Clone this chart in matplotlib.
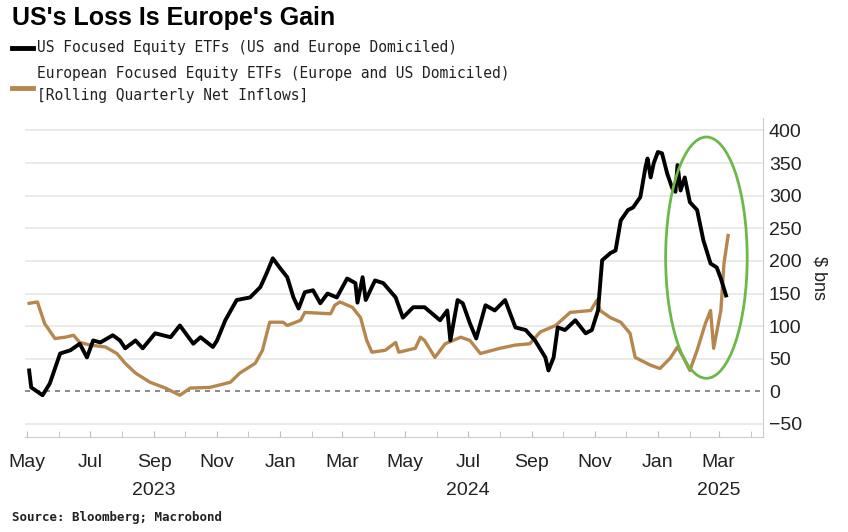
import numpy as np
import pandas as pd
import matplotlib
matplotlib.use("Agg")
import matplotlib.pyplot as plt
import matplotlib.dates as mdates
from matplotlib.patches import Ellipse
from matplotlib.lines import Line2D

# US focused equity ETFs, rolling quarterly net inflows ($ bn)
us_dates = ["2023-05-03", "2023-05-05", "2023-05-16", "2023-05-23", "2023-06-02", "2023-06-12",
            "2023-06-21", "2023-06-28", "2023-07-04", "2023-07-11", "2023-07-23", "2023-07-30",
            "2023-08-04", "2023-08-14", "2023-08-21", "2023-09-02", "2023-09-17", "2023-09-26",
            "2023-10-09", "2023-10-16", "2023-10-28", "2023-11-01", "2023-11-09", "2023-11-20",
            "2023-12-03", "2023-12-13", "2023-12-19", "2023-12-25", "2024-01-01", "2024-01-08",
            "2024-01-14", "2024-01-19", "2024-01-25", "2024-02-02", "2024-02-09", "2024-02-16",
            "2024-02-25", "2024-03-06", "2024-03-14", "2024-03-16", "2024-03-21", "2024-03-24",
            "2024-04-02", "2024-04-10", "2024-04-22", "2024-04-29", "2024-05-09", "2024-05-20",
            "2024-06-04", "2024-06-11", "2024-06-14", "2024-06-21", "2024-06-26", "2024-07-03",
            "2024-07-09", "2024-07-18", "2024-07-27", "2024-08-06", "2024-08-16", "2024-08-26",
            "2024-09-04", "2024-09-14", "2024-09-17", "2024-09-22", "2024-09-26", "2024-10-03",
            "2024-10-13", "2024-10-23", "2024-10-29", "2024-11-04", "2024-11-08", "2024-11-16",
            "2024-11-21", "2024-11-26", "2024-12-03", "2024-12-08", "2024-12-15", "2024-12-20",
            "2024-12-22", "2024-12-25", "2024-12-28", "2025-01-01", "2025-01-05", "2025-01-10",
            "2025-01-15", "2025-01-18", "2025-01-20", "2025-01-23", "2025-01-27", "2025-02-01",
            "2025-02-08", "2025-02-14", "2025-02-21", "2025-02-27", "2025-03-03", "2025-03-08"]
us_vals = [32, 6, -6, 12, 58, 63,
           73, 52, 78, 75, 86, 78,
           66, 78, 66, 89, 83, 101,
           73, 83, 68, 78, 109, 140,
           144, 160, 181, 204, 189, 175,
           144, 127, 152, 155, 135, 150,
           144, 173, 166, 136, 175, 140,
           170, 166, 144, 113, 129, 129,
           109, 124, 78, 140, 135, 104,
           81, 132, 124, 140, 98, 94,
           78, 52, 32, 52, 98, 94,
           109, 89, 94, 124, 201, 212,
           216, 262, 278, 282, 298, 344,
           357, 328, 350, 367, 365, 334,
           311, 306, 347, 308, 328, 290,
           278, 232, 196, 190, 173, 147]

# European focused equity ETFs
eu_dates = ["2023-05-03", "2023-05-11", "2023-05-18", "2023-05-28", "2023-06-07", "2023-06-15",
            "2023-06-21", "2023-07-01", "2023-07-16", "2023-07-27", "2023-08-04", "2023-08-14",
            "2023-08-28", "2023-09-12", "2023-09-26", "2023-10-06", "2023-10-25", "2023-11-14",
            "2023-11-23", "2023-12-08", "2023-12-15", "2023-12-22", "2024-01-04", "2024-01-08",
            "2024-01-21", "2024-01-25", "2024-02-19", "2024-02-23", "2024-02-28", "2024-03-11",
            "2024-03-19", "2024-03-25", "2024-03-30", "2024-04-12", "2024-04-22", "2024-04-25",
            "2024-05-11", "2024-05-16", "2024-05-20", "2024-05-30", "2024-06-09", "2024-06-24",
            "2024-07-03", "2024-07-13", "2024-08-01", "2024-08-16", "2024-08-30", "2024-09-09",
            "2024-09-24", "2024-10-08", "2024-10-28", "2024-11-03", "2024-11-06", "2024-11-16",
            "2024-11-26", "2024-12-05", "2024-12-10", "2024-12-25", "2025-01-03", "2025-01-13",
            "2025-01-20", "2025-01-26", "2025-02-01", "2025-02-08", "2025-02-16", "2025-02-21",
            "2025-02-24", "2025-03-03", "2025-03-06", "2025-03-10"]
eu_vals = [135, 137, 104, 81, 83, 86,
           75, 71, 68, 58, 43, 28,
           14, 5, -6, 5, 6, 14,
           28, 43, 63, 106, 106, 101,
           109, 121, 119, 132, 137, 129,
           113, 78, 60, 63, 75, 60,
           66, 83, 78, 52, 73, 83,
           78, 58, 66, 71, 73, 91,
           101, 121, 124, 140, 124, 113,
           106, 89, 52, 40, 35, 51,
           68, 51, 32, 63, 104, 124,
           66, 124, 196, 239]

y_ticks = [-50, 0, 50, 100, 150, 200, 250, 300, 350, 400]
year_labels = [("2023-09-01", "2023"), ("2024-07-01", "2024"), ("2025-03-01", "2025")]

us = pd.Series(us_vals, index=pd.to_datetime(us_dates))
eu = pd.Series(eu_vals, index=pd.to_datetime(eu_dates))

sans = ["Liberation Sans", "DejaVu Sans"]
mono = ["DejaVu Sans Mono"]

fig = plt.figure(figsize=(8.48, 5.32), dpi=100)
ax = fig.add_axes([0.0295, 0.1786, 0.8705, 0.5994])

for y in y_ticks:
    if y != 0:
        ax.axhline(y, color="#e6e6e6", lw=1.2, zorder=0)
ax.axhline(0, color="#777777", lw=1.2, ls=(0, (3, 3)), zorder=1)

ax.plot(eu.index, eu.values, color="#b5874f", lw=2.4, zorder=3)
ax.plot(us.index, us.values, color="black", lw=2.8, zorder=4)

ax.set_ylim(-70, 419)
ax.set_xlim(pd.Timestamp("2023-04-29"), pd.Timestamp("2025-04-13"))

ax.yaxis.tick_right()
ax.set_yticks(y_ticks)
ax.tick_params(axis="y", length=0, pad=4, labelsize=14, labelcolor="#222222")
for t in ax.get_yticklabels():
    t.set_family(sans)

ax.xaxis.set_major_locator(mdates.MonthLocator(bymonth=[1, 3, 5, 7, 9, 11]))
ax.xaxis.set_major_formatter(mdates.DateFormatter("%b"))
ax.xaxis.set_minor_locator(mdates.MonthLocator())
ax.tick_params(axis="x", which="both", direction="in", length=4, color="#bbbbbb",
               labelsize=14, pad=12, labelcolor="#222222")
for t in ax.get_xticklabels():
    t.set_family(sans)

for yr_date, yr in year_labels:
    ax.text(pd.Timestamp(yr_date), -0.167, yr, transform=ax.get_xaxis_transform(),
            ha="center", va="center", fontsize=14, family=sans, color="#222222")

for s in ["top", "left"]:
    ax.spines[s].set_visible(False)
ax.spines["right"].set_color("#cccccc")
ax.spines["bottom"].set_color("#cccccc")

ax.text(1.075, 0.50, "$ bns", transform=ax.transAxes, rotation=270,
        ha="center", va="center", fontsize=13, family=sans, color="#222222")

# green highlight ellipse
cx = mdates.date2num(pd.Timestamp("2025-02-17"))
ax.add_patch(Ellipse((cx, 205), width=79, height=370, fill=False,
                     edgecolor="#6cb84a", lw=2, zorder=5))

# title and legend
fig.text(0.014, 0.966, "US's Loss Is Europe's Gain", fontsize=18, fontweight="bold",
         family=sans, va="center", ha="left")
fig.add_artist(Line2D([0.014, 0.039], [0.909, 0.909], color="black", lw=3.5))
fig.text(0.044, 0.911, "US Focused Equity ETFs (US and Europe Domiciled)",
         fontsize=10.5, family=mono, va="center", color="#222222")
fig.add_artist(Line2D([0.014, 0.039], [0.834, 0.834], color="#b5874f", lw=3.5))
fig.text(0.044, 0.861, "European Focused Equity ETFs (Europe and US Domiciled)",
         fontsize=10.5, family=mono, va="center", color="#222222")
fig.text(0.044, 0.820, "[Rolling Quarterly Net Inflows]",
         fontsize=10.5, family=mono, va="center", color="#222222")

fig.text(0.014, 0.028, "Source: Bloomberg; Macrobond", fontsize=9, fontweight="bold",
         family=mono, va="center", color="#222222")

fig.savefig("out.png", dpi=100)
